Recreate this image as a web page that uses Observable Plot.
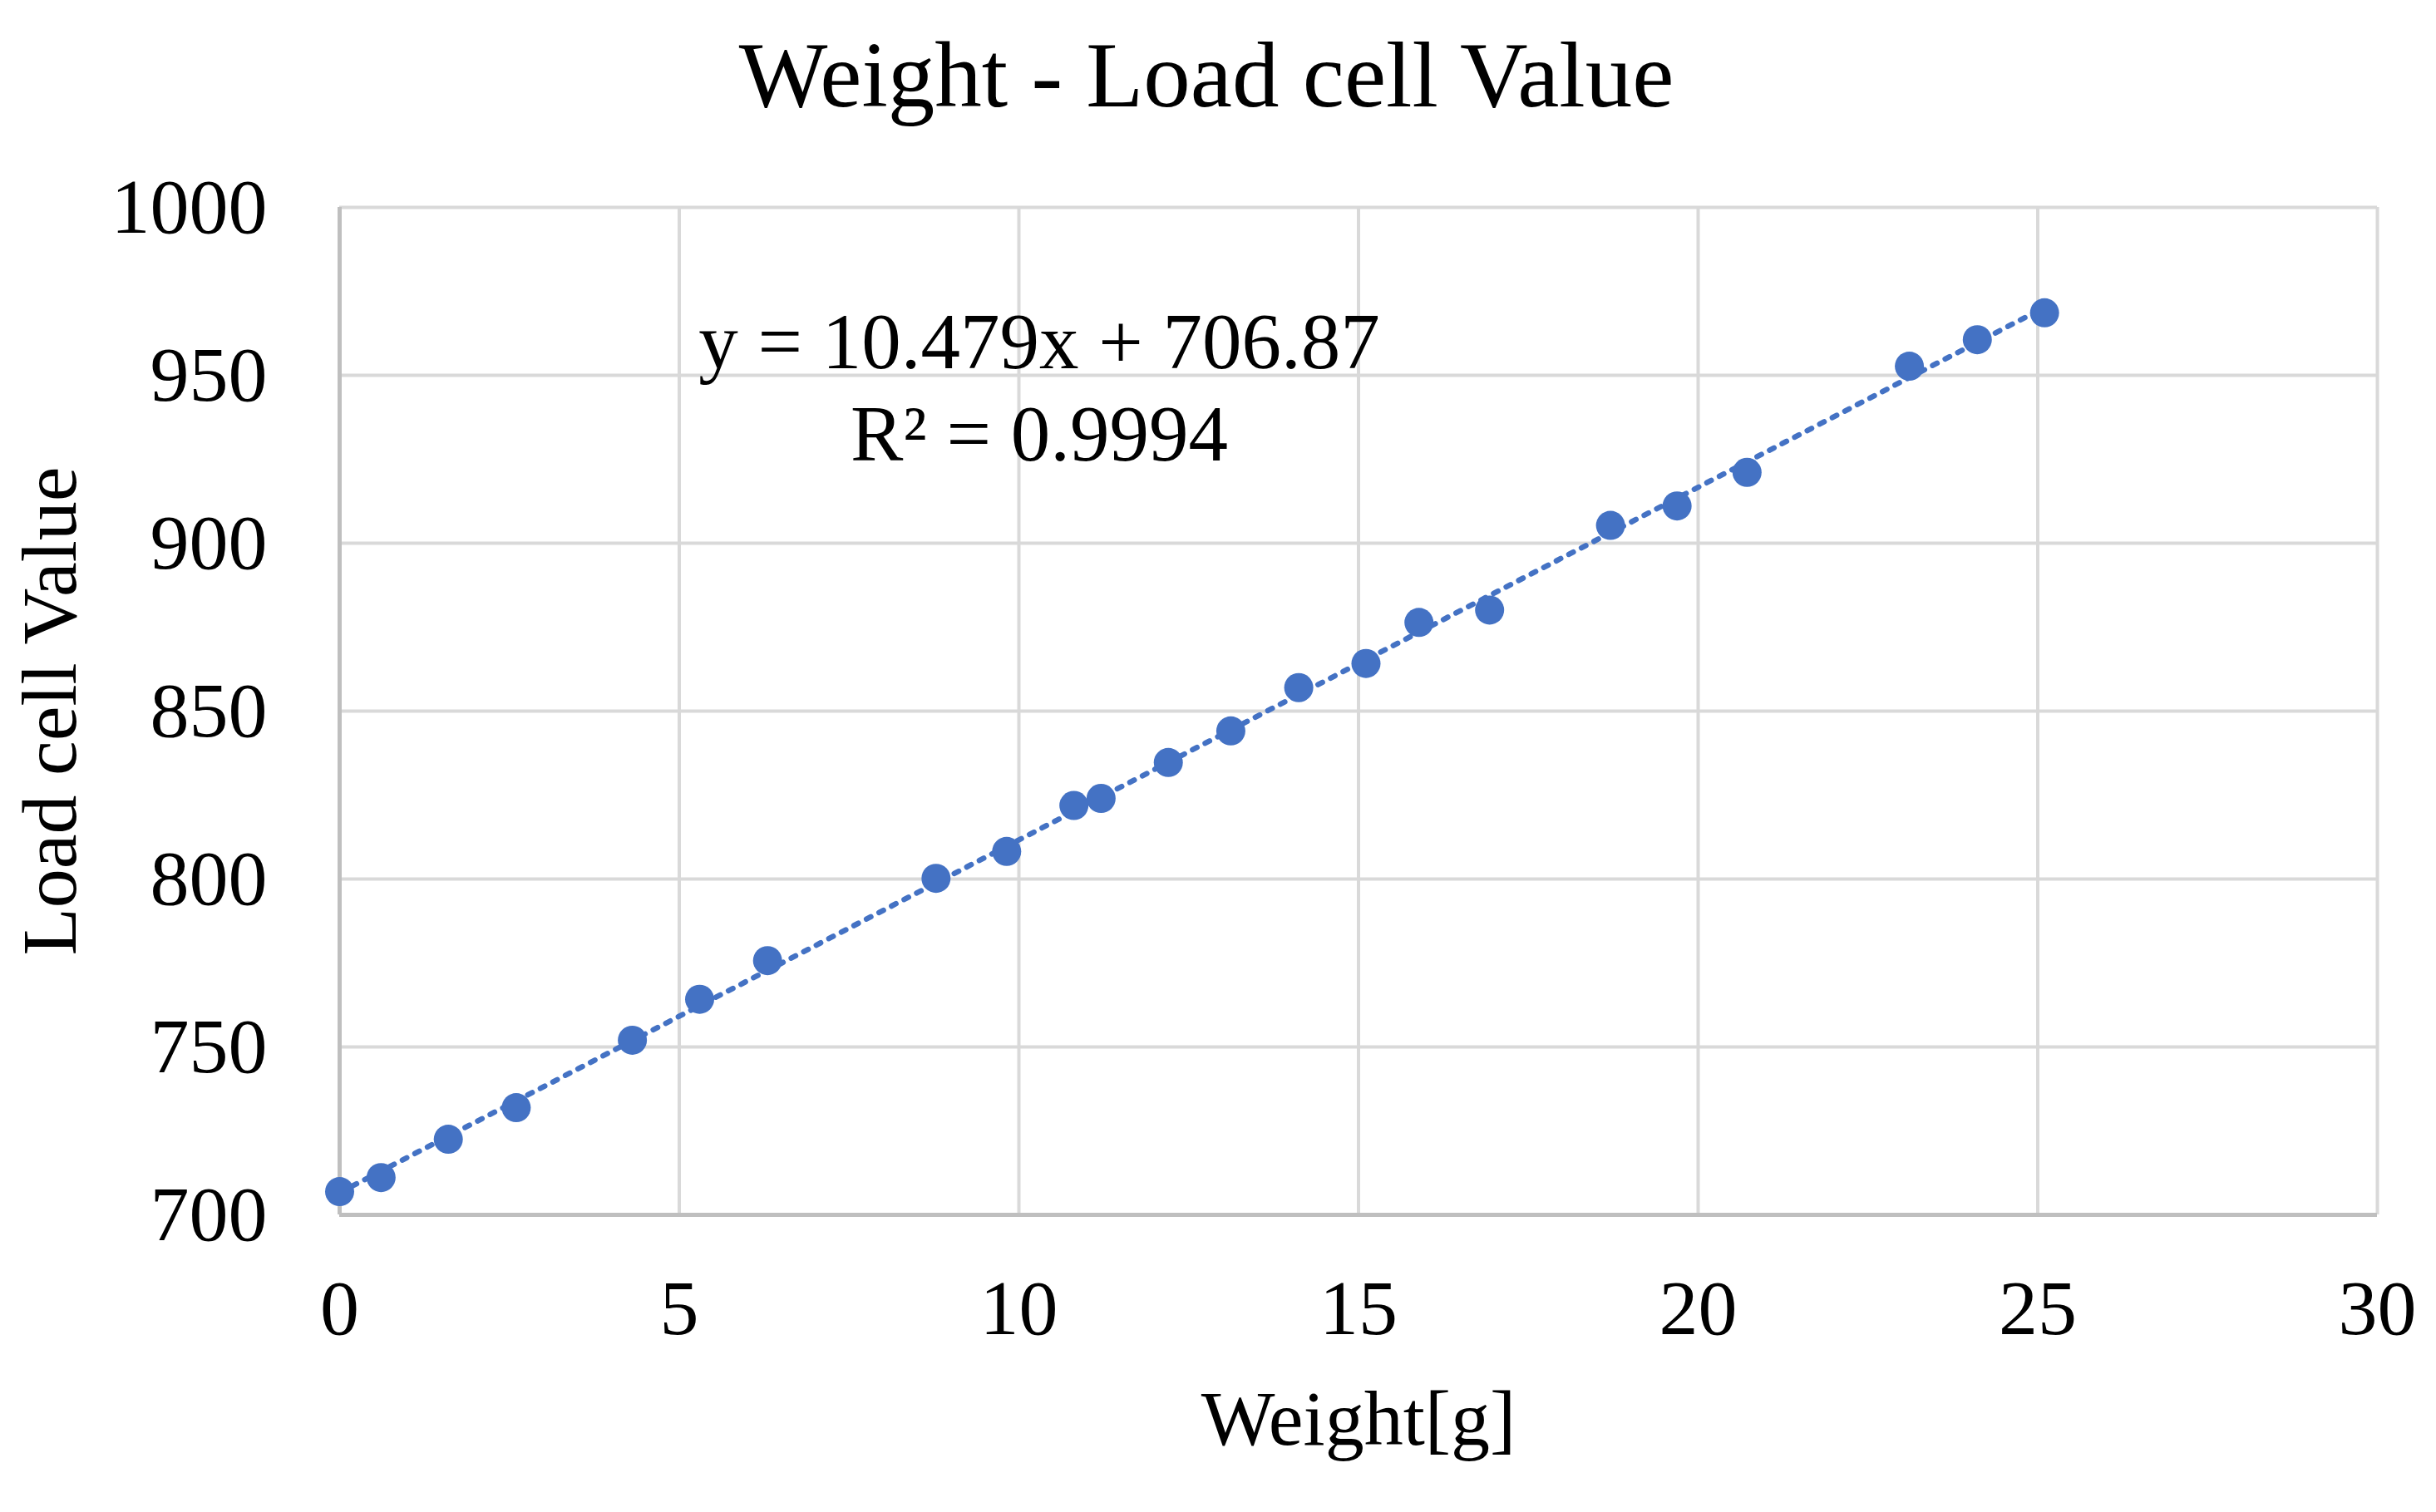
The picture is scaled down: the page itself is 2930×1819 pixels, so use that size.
<!DOCTYPE html>
<html><head><meta charset="utf-8">
<script src="https://cdn.jsdelivr.net/npm/d3@7"></script>
<script src="https://cdn.jsdelivr.net/npm/@observablehq/plot@0.6"></script>
<style>
html,body{margin:0;padding:0;background:#fff;}
#title{font-family:"Liberation Serif","Times New Roman",serif;font-size:113px;line-height:110px;height:145px;box-sizing:border-box;padding-top:35px;padding-right:28px;text-align:center;color:#000;width:2930px;white-space:nowrap;}
</style></head><body>
<div id="title">Weight - Load cell Value</div>
<div id="chart"></div>
<script>
const weights = [0, 0.61, 1.6, 2.6, 4.31, 5.3, 6.3, 8.78, 9.82, 10.81, 11.21, 12.2, 13.12, 14.12, 15.11, 15.89, 16.93, 18.71, 19.69, 20.72, 23.11, 24.11, 25.1];
const loadValues = [706.9, 711.1, 722.5, 731.9, 752, 764.2, 775.7, 800.2, 808.2, 821.9, 824.0, 834.7, 844.1, 857.0, 864.2, 876.4, 880.1, 905.3, 911.1, 921.1, 952.7, 960.6, 968.6];
const xTicks = [0, 5, 10, 15, 20, 25, 30];
const yTicks = [700, 750, 800, 850, 900, 950, 1000];
const xLabel = "Weight[g]";
const yLabel = "Load cell Value";
const equationLines = ["y = 10.479x + 706.87", "R² = 0.9994"];

const data = weights.map((w, i) => ({w, v: loadValues[i]}));
const blue = "#4472C4";
const fs = 94;

const chart = Plot.plot({
  width: 2930, height: 1674,
  marginTop: 104, marginBottom: 358, marginLeft: 408, marginRight: 71,
  style: {fontFamily: '"Liberation Serif", "Times New Roman", serif', color: "#000", background: "#fff"},
  x: {domain: [0, 30]},
  y: {domain: [700, 1000]},
  marks: [
    Plot.gridX(xTicks, {stroke: "#D9D9D9", strokeOpacity: 1, strokeWidth: 4}),
    Plot.gridY(yTicks, {stroke: "#D9D9D9", strokeOpacity: 1, strokeWidth: 4}),
    Plot.ruleX([0], {stroke: "#BFBFBF", strokeWidth: 5}),
    Plot.ruleY([700], {stroke: "#BFBFBF", strokeWidth: 5}),
    Plot.axisX(xTicks, {tickSize: 0, tickPadding: 77, fontSize: fs, label: null, tickFormat: d => String(d)}),
    Plot.axisY(yTicks, {tickSize: 0, tickPadding: 87, fontSize: fs, label: null, tickFormat: d => String(d)}),
    Plot.linearRegressionY(data, {x: "w", y: "v", ci: 0, stroke: blue, strokeWidth: 6.5, strokeDasharray: "6 11"}),
    Plot.dot(data, {x: "w", y: "v", r: 17.5, fill: blue, stroke: null}),
    Plot.text([equationLines[0]], {x: 10.3, y: 952, text: d => d, lineAnchor: "bottom", textAnchor: "middle", fontSize: 95, fill: "#000"}),
    Plot.text([equationLines[1]], {x: 10.3, y: 924.75, text: d => d, lineAnchor: "bottom", textAnchor: "middle", fontSize: 95, fill: "#000"}),
    Plot.text([xLabel], {frameAnchor: "bottom", dy: 276, text: d => d, lineAnchor: "bottom", textAnchor: "middle", fontSize: fs, fill: "#000"}),
    Plot.text([yLabel], {frameAnchor: "left", dx: -318, rotate: -90, text: d => d, lineAnchor: "bottom", textAnchor: "middle", fontSize: fs, fill: "#000"})
  ]
});
document.getElementById("chart").appendChild(chart);
</script>
</body></html>
